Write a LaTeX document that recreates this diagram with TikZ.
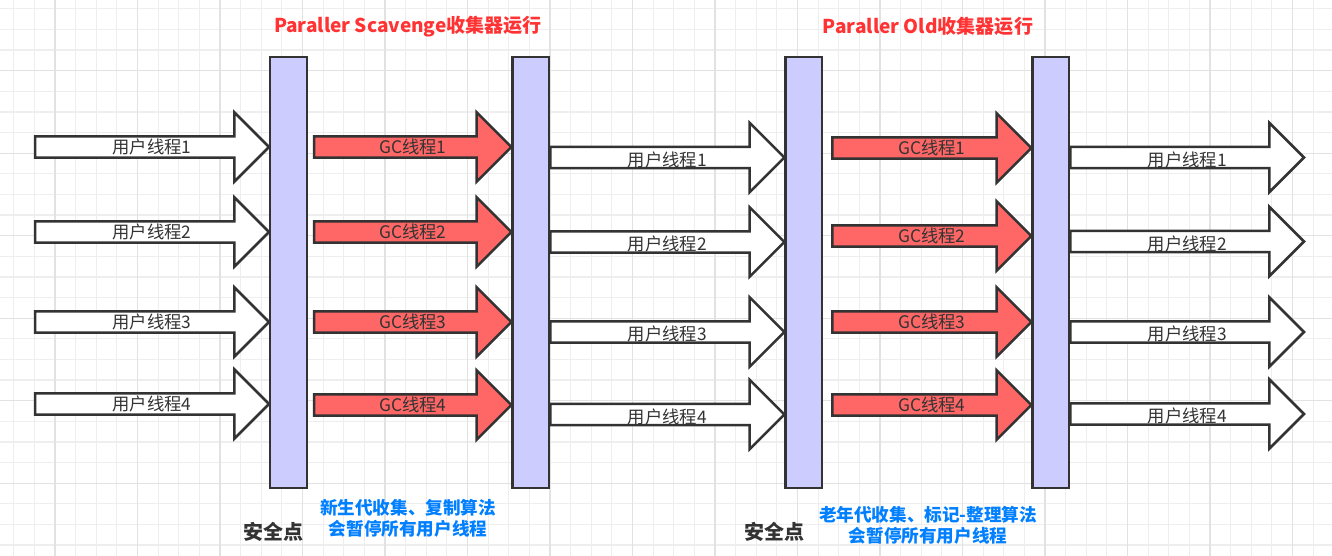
\documentclass[tikz,border=0pt]{standalone}
\usepackage{fontspec}
\setmainfont{Noto Sans CJK SC}
\usetikzlibrary{calc}
\definecolor{line}{HTML}{333333}
\definecolor{barfill}{HTML}{CCCCFF}
\definecolor{gcred}{HTML}{FF6666}
\definecolor{titlered}{HTML}{FF3333}
\definecolor{noteblue}{HTML}{007FFF}
\definecolor{gridmin}{HTML}{EEEEEE}
\definecolor{gridmaj}{HTML}{E2E2E2}

\begin{document}
\begin{tikzpicture}[x=0.75pt,y=-0.75pt,
    bar/.style={draw=line,line width=1.875pt,fill=barfill,minimum width=27.4pt,minimum height=323.1pt,inner sep=0pt},
    blockarrow/.style={draw=line,line width=1.875pt,line join=miter,
      to path={let \p1=(\tikztostart),\p2=(\tikztotarget) in
        (\x1,{\y1+8pt}) -- ({\x2-26pt},{\y1+8pt}) -- ({\x2-26pt},{\y1+26pt}) -- (\x2,\y1)
        -- ({\x2-26pt},{\y1-26pt}) -- ({\x2-26pt},{\y1-8pt}) -- (\x1,{\y1-8pt}) -- cycle}},
    userarrow/.style={blockarrow,fill=white},
    gcarrow/.style={blockarrow,fill=gcred},
    lbl/.style={text=line,font=\fontsize{13}{15}\selectfont,inner sep=0pt},
    title/.style={text=titlered,font=\fontsize{14.3}{17}\selectfont\bfseries},
    note/.style={text=noteblue,font=\fontsize{13.2}{16}\selectfont\bfseries,align=center},
    safe/.style={text=line,font=\fontsize{15}{18}\selectfont\bfseries}]
  \useasboundingbox (0,0) rectangle (1332,556);
  \fill[white] (0,0) rectangle (1332,556);
  % grid
  \foreach \k in {0,...,64}{\draw[gridmin,line width=0.9pt] ({13.75+20.625*\k},0) -- ++(0,556);}
  \foreach \k in {0,...,26}{\draw[gridmin,line width=0.9pt] (0,{8.8+20.625*\k}) -- ++(1332,0);}
  \foreach \k in {0,...,15}{\draw[gridmaj,line width=0.9pt] ({55+82.5*\k},0) -- ++(0,556);}
  \foreach \k in {0,...,5}{\draw[gridmaj,line width=0.9pt] (0,{70.7+82.5*\k}) -- ++(1332,0);}

  % safe points
  \node[bar] (b1) at (288.5,272.6) {};
  \node[bar] (b2) at (530.9,272.6) {};
  \node[bar] (b3) at (803.9,272.6) {};
  \node[bar] (b4) at (1050.9,272.6) {};

  % threads
  \foreach \y [count=\i] in {147,232,322,404}{
    \coordinate (ut1\i) at (35,\y);
    \draw[userarrow] (ut1\i) to (b1.west |- ut1\i);
    \node[lbl] (ul1\i) at ($(ut1\i)!.5!(b1.west |- ut1\i)$) {用户线程\i};
  }
  \foreach \y [count=\i] in {147,232,322,405}{
    \coordinate (gt2\i) at ($(b1.east |- 0,\y)+(6,0)$);
    \draw[gcarrow] (gt2\i) to (b2.west |- gt2\i);
    \node[lbl] (gl2\i) at ($(gt2\i)!.5!(b2.west |- gt2\i)$) {GC线程\i};
  }
  \foreach \y [count=\i] in {157.5,242,332,414.5}{
    \coordinate (ut3\i) at (b2.east |- 0,\y);
    \draw[userarrow] (ut3\i) to (b3.west |- ut3\i);
    \node[lbl] (ul3\i) at ($(ut3\i)!.5!(b3.west |- ut3\i)+(0,2)$) {用户线程\i};
  }
  \foreach \y [count=\i] in {148,236,322,405}{
    \coordinate (gt4\i) at ($(b3.east |- 0,\y)+(9,0)$);
    \draw[gcarrow] (gt4\i) to (b4.west |- gt4\i);
    \node[lbl] (gl4\i) at ($(gt4\i)!.5!(b4.west |- gt4\i)$) {GC线程\i};
  }
  \foreach \y [count=\i] in {157.5,241.5,332,414}{
    \coordinate (ut5\i) at (b4.east |- 0,\y);
    \coordinate (ue5\i) at (1304,\y);
    \draw[userarrow] (ut5\i) to (ue5\i);
    \node[lbl] (ul5\i) at ($(ut5\i)!.5!(ue5\i)+(0,2)$) {用户线程\i};
  }

  % texts
  \node[title] (t1) at (408,26.7) {Paraller Scavenge收集器运行};
  \node[title] (t2) at (928,26.7) {Paraller Old收集器运行};
  \node[safe] (s1) at (273,531.7) {安全点};
  \node[safe] (s2) at (774,531.7) {安全点};
  \node[note] (n1) at (408,518) {新生代收集、复制算法\\会暂停所有用户线程};
  \node[note] (n2) at (928,525) {老年代收集、标记-整理算法\\会暂停所有用户线程};
\end{tikzpicture}
\end{document}
